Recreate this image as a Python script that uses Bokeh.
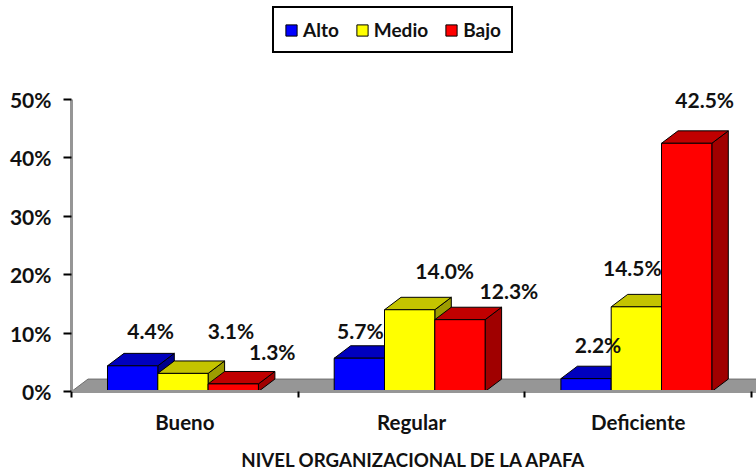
from bokeh.plotting import figure
from bokeh.embed import file_html
from bokeh.resources import INLINE
from bokeh.models import FixedTicker, Legend, LegendItem, ColumnDataSource
from bokeh.core.properties import value

categories = ["Bueno", "Regular", "Deficiente"]
series_names = ["Alto", "Medio", "Bajo"]
alto = [4.4, 5.7, 2.2]
medio = [3.1, 14.0, 14.5]
bajo = [1.3, 12.3, 42.5]
y_ticks = [0, 10, 20, 30, 40, 50]

# label offsets from each bar's front-top centre, in pixels (right, up)
off_alto = ([18, 35], [1, 28], [12, 34])
off_medio = ([48, 43], [35, 39], [-4, 39])
off_bajo = ([39, 32], [49, 29], [18, 44])

FONT = "Lato"
W, H = 756, 473
LEFT, BOTTOM = 71, 80            # frame inset
PX_PER_PCT = 5.87
PX_PER_CAT = 226.7
BAR_W = 50.3 / PX_PER_CAT
GROUP_START = 36 / PX_PER_CAT
DX = 16.5 / PX_PER_CAT
DY = 12.5 / PX_PER_PCT
FRAME_W, FRAME_H = W - LEFT, H - BOTTOM

p = figure(width=W, height=H, output_backend="svg", toolbar_location=None,
           x_range=(0, FRAME_W / PX_PER_CAT), y_range=(0, FRAME_H / PX_PER_PCT),
           min_border_left=LEFT, min_border_bottom=BOTTOM, min_border_top=0, min_border_right=0,
           outline_line_color=None, background_fill_color="white", border_fill_color="white")
p.grid.visible = False

# floor
fx_end = FRAME_W / PX_PER_CAT + DX
p.patch([0, DX, fx_end, fx_end - DX], [0, DY, DY, 0], fill_color="#969696", line_color="#6e6e6e", line_width=1)

styles = [("#0000FF", "#0000BE", "#00008C"), ("#FFFF00", "#C4C400", "#9C9C00"), ("#FF0000", "#C00000", "#A00000")]
legend_items = []
for s, (name, vals, offs, (front, top, side)) in enumerate(zip(series_names, [alto, medio, bajo], [off_alto, off_medio, off_bajo], styles)):
    lefts = [c + GROUP_START + s * BAR_W for c in range(len(categories))]
    rights = [l + BAR_W for l in lefts]
    p.patches([[r, r + DX, r + DX, r] for r in rights],
              [[0, DY, v + DY, v] for v in vals],
              fill_color=side, line_color="#000000", line_width=1)
    p.patches([[l, l + DX, r + DX, r] for l, r in zip(lefts, rights)],
              [[v, v + DY, v + DY, v] for v in vals],
              fill_color=top, line_color="#000000", line_width=1)
    bar = p.vbar(x=[(l + r) / 2 for l, r in zip(lefts, rights)], top=vals, bottom=0, width=BAR_W,
                 fill_color=front, line_color="#000000", line_width=1)
    legend_items.append(LegendItem(label=name, renderers=[bar]))

# data labels above everything
for s, (vals, offs) in enumerate(zip([alto, medio, bajo], [off_alto, off_medio, off_bajo])):
    src = ColumnDataSource(dict(
        x=[c + GROUP_START + (s + 0.5) * BAR_W for c in range(len(categories))], y=vals,
        t=[f"{v:.1f}%" for v in vals], dx=[o[0] for o in offs], dy=[-o[1] for o in offs]))
    p.text("x", "y", text="t", source=src, x_offset="dx", y_offset="dy", text_align="center",
           text_baseline="middle", text_font=value(FONT), text_font_style="bold",
           text_font_size="21px", text_color="#111111")

# y axis
ya = p.yaxis[0]
ya.ticker = FixedTicker(ticks=y_ticks)
ya.bounds = (0, y_ticks[-1])
ya.major_label_overrides = {t: f"{t}%" for t in y_ticks}
ya.axis_line_color = "#969696"
ya.axis_line_width = 3
ya.major_tick_line_color = "#000000"
ya.major_tick_line_width = 2
ya.major_tick_in = 0
ya.major_tick_out = 8
ya.minor_tick_line_color = None
ya.major_label_standoff = 12
ya.major_label_text_font = FONT
ya.major_label_text_font_style = "bold"
ya.major_label_text_font_size = "21px"
ya.major_label_text_color = "#111111"

# x axis: labels in the group centres, tick marks on the group boundaries
xa = p.xaxis[0]
centres = [c + 0.5 for c in range(len(categories))]
xa.ticker = FixedTicker(ticks=centres, minor_ticks=list(range(len(categories) + 1)))
xa.major_label_overrides = dict(zip(centres, categories))
xa.axis_line_color = "#969696"
xa.axis_line_width = 3
xa.major_tick_line_color = None
xa.major_tick_out = 0
xa.major_tick_in = 0
xa.minor_tick_line_color = "#000000"
xa.minor_tick_line_width = 2
xa.minor_tick_out = 6
xa.minor_tick_in = 0
xa.major_label_standoff = 12
xa.major_label_text_font = FONT
xa.major_label_text_font_style = "bold"
xa.major_label_text_font_size = "20.5px"
xa.major_label_text_color = "#111111"
xa.axis_label = "NIVEL ORGANIZACIONAL DE LA APAFA"
xa.axis_label_standoff = 12
xa.axis_label_text_font = FONT
xa.axis_label_text_font_style = "bold"
xa.axis_label_text_font_size = "18.7px"
xa.axis_label_text_color = "#111111"

legend = Legend(items=legend_items, orientation="horizontal", location=(201, 338),
                border_line_color="#000000", border_line_alpha=1, border_line_width=2.5, background_fill_alpha=1,
                label_text_font=FONT, label_text_font_style="bold", label_text_font_size="19px",
                label_text_color="#111111", glyph_width=14, glyph_height=14, spacing=16,
                padding=10, margin=0, label_standoff=5)
p.add_layout(legend)

open("out.html", "w").write(file_html(p, INLINE))
